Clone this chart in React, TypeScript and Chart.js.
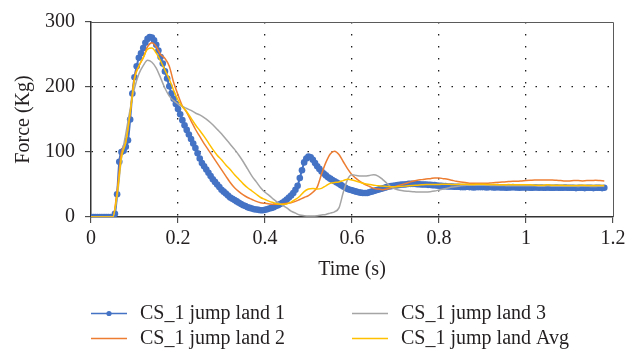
import React, { useEffect, useRef } from 'react';
import { Chart, registerables } from 'chart.js';

Chart.register(...registerables);

// ---------- DATA ----------
const SERIES_LABELS = ['CS_1 jump land 1', 'CS_1 jump land 2', 'CS_1 jump land 3', 'CS_1 jump land Avg'];
const SERIES_COLORS = ['#4472C4', '#ED7D31', '#A5A5A5', '#FFC000'];
const X_TICK_LABELS = ['0', '0.2', '0.4', '0.6', '0.8', '1', '1.2'];
const Y_TICK_LABELS = ['0', '100', '200', '300'];
const X_TITLE = 'Time (s)';
const Y_TITLE = 'Force (Kg)';

// sample interval (s) of land 1 (marker series) and of the other series
const LAND1_STEP = 0.005;
const LINE_STEP = 0.01;

// land 1, every 0.005 s from 0 to 1.18 s
const LAND1 = [
  0, 0, 0, 0, 0, 0, 0, 0, 0, 0, 0, 5, 35, 85, 100, 102, 108, 118, 150, 190,
  215, 232, 245, 252, 260, 268, 274, 277, 276, 272, 265, 256, 246, 236, 224, 213, 201, 190, 182, 174,
  166, 158, 149, 141, 134, 127, 120, 113, 106, 98, 90, 83, 78, 73, 68, 63, 58, 54, 50, 46,
  42, 39, 36, 33, 30, 28, 26, 24, 22, 20, 18, 17, 15, 14, 13, 12, 11.5, 11, 10.5, 10.5,
  11, 12, 13, 14, 15, 17, 18, 20, 22, 24, 27, 30, 33, 37, 42, 48, 60, 72, 84, 90,
  93, 92, 88, 83, 78, 74, 70, 67, 64, 61, 59, 57, 55, 53, 51, 49, 47, 45, 43, 42,
  41, 40, 39, 38, 37.5, 37, 37, 37, 38, 39, 40, 41, 42, 43, 44, 45, 46, 47, 47.5, 48,
  48.5, 49, 49.5, 50, 50, 50.5, 51, 51, 51, 51, 50.5, 50.5, 50, 50, 50, 49.5, 49.5, 49, 49, 48.5,
  48, 48, 47.5, 47.5, 47, 47, 47, 46.5, 46.5, 46.5, 46, 46, 46, 46.5, 46, 46, 45.5, 46, 46, 46,
  46, 46, 45.5, 46, 46, 45.5, 45.5, 46, 45.5, 45.5, 45.5, 45, 45.5, 45.5, 46, 45.5, 45.5, 45, 45.5, 45.5,
  45.5, 45.5, 45, 45, 45.5, 45.5, 45, 45.5, 45, 45, 45.5, 45, 45, 45, 45.5, 45, 45, 45, 45.5, 45,
  45, 45, 45, 44.5, 45, 45, 45, 44.5, 45, 45, 45, 44.5, 45, 45, 45, 44.5, 45,
];

// land 2, every 0.01 s from 0 to 1.18 s
const LAND2 = [
  0, 0, 0, 0, 0, 0, 40, 100, 116, 160,
  215, 232, 245, 262, 268, 262, 250, 244, 232, 207,
  188, 171, 161, 148, 135, 124, 113, 103, 93, 83,
  73, 63, 53, 45, 39, 34, 30, 27, 24, 22,
  21, 20, 19.5, 19.5, 20, 21, 22, 24, 27, 30,
  33, 38, 46, 66, 84, 97, 101, 96, 85, 74,
  65, 59, 54, 50, 47, 44, 43, 42, 43, 45,
  47, 49, 51, 53, 55, 56.5, 57.5, 58.5, 59, 60,
  60, 59, 58, 56.5, 55, 54, 53, 52, 52, 52,
  52, 52, 52.5, 53, 53.5, 54, 54.5, 55, 55, 55.5,
  56, 56.5, 57, 57, 57, 57, 57, 56.5, 56, 55.5,
  55.5, 56, 56, 55.5, 56, 56, 56.5, 56, 55.5,
];

// land 3, every 0.01 s from 0 to 1.18 s
const LAND3 = [
  0, 0, 0, 0, 0, 0, 30, 90, 128, 166,
  198, 220, 233, 241, 238, 229, 214, 198, 186, 179,
  174, 170, 167, 164, 160, 157, 153, 148, 142, 135,
  128, 120, 112, 104, 95, 85, 74, 63, 54, 45,
  38, 33, 27, 22, 18, 14, 9, 6, 3, 2,
  1.5, 1.5, 2, 3, 4, 6, 8, 14, 38, 58,
  65, 64, 63, 63, 64, 65, 63, 58, 52, 46,
  43, 41, 40, 39.5, 39, 38.5, 38.5, 38.5, 39, 40,
  41.5, 43, 44.5, 46, 47, 48, 48.5, 49, 49, 49,
  49, 49, 48.5, 48.5, 48.5, 48.5, 48, 48, 48, 48,
  48, 48, 48, 47.5, 47.5, 48, 47.5, 47.5, 47.5, 47.5,
  47.5, 47.5, 47, 47.5, 47.5, 47, 47, 47.5, 47,
];

// average, every 0.01 s from 0 to 1.18 s
const LAND_AVG = [
  0, 0, 0, 0, 0, 0, 35, 92, 115, 160,
  212, 232, 245, 258, 260, 252, 240, 226, 212, 195,
  180, 170, 162, 152, 142, 133, 124, 114, 104, 95,
  88, 80, 73, 65, 58, 51, 45, 40, 35, 30,
  27, 24, 22, 20, 19.5, 20, 23, 27, 32, 39,
  43, 44, 43, 44, 48, 52, 53, 54, 56, 58,
  57, 55, 53, 51, 50, 49, 48, 47.5, 47, 46.5,
  46.5, 47, 47.5, 48, 48.5, 49, 49.5, 50, 50, 50,
  50, 50.5, 50.5, 50, 50, 50.5, 50.5, 50, 50, 50.5,
  50.5, 50, 50, 50, 49.5, 49.5, 50, 49.5, 49.5, 49.5,
  49.5, 49.5, 49, 49, 49, 49.5, 49, 49, 49, 48.5,
  48.5, 48.5, 48.5, 49, 48.5, 48.5, 48.5, 48.5, 48.5,
];

// ---------- helpers ----------
const toPoints = (vals: number[], step: number) =>
  vals.map((v, i) => ({ x: Math.round(i * step * 1000) / 1000, y: v }));

const FONT_FAMILY = '"Liberation Serif", "Times New Roman", serif';
const FONT_SIZE = 20;
const TEXT_COLOR = '#231f20';
const AXIS_COLOR = '#333333';
const GRID_COLOR = '#1f1f1f';

const frameAndLegend = {
  id: 'frameAndLegend',
  afterDraw(chart: any) {
    const { ctx, chartArea } = chart;
    ctx.save();
    // top and right frame lines
    ctx.strokeStyle = '#5a5a5a';
    ctx.lineWidth = 1;
    ctx.setLineDash([]);
    ctx.beginPath();
    ctx.moveTo(chartArea.left, Math.round(chartArea.top) + 0.5);
    ctx.lineTo(chartArea.right + 0.5, Math.round(chartArea.top) + 0.5);
    ctx.lineTo(chartArea.right + 0.5, chartArea.bottom);
    ctx.stroke();

    // legend (two columns)
    const items = [
      { ds: 0, x: 91, y: 313 },
      { ds: 2, x: 352, y: 313 },
      { ds: 1, x: 91, y: 338 },
      { ds: 3, x: 352, y: 338 },
    ];
    ctx.font = `${FONT_SIZE}px ${FONT_FAMILY}`;
    ctx.textBaseline = 'middle';
    ctx.textAlign = 'left';
    items.forEach((it) => {
      const ds = chart.data.datasets[it.ds];
      ctx.strokeStyle = ds.borderColor;
      ctx.lineWidth = 1.5;
      ctx.beginPath();
      ctx.moveTo(it.x, it.y + 0.5);
      ctx.lineTo(it.x + 36, it.y + 0.5);
      ctx.stroke();
      if (ds.pointRadius > 0) {
        ctx.fillStyle = ds.pointBackgroundColor;
        ctx.beginPath();
        ctx.arc(it.x + 18, it.y + 0.5, 2.6, 0, Math.PI * 2);
        ctx.fill();
      }
      ctx.fillStyle = TEXT_COLOR;
      ctx.fillText(ds.label, it.x + 49, it.y + 1);
    });
    ctx.restore();
  },
};

export default function App() {
  const canvasRef = useRef<HTMLCanvasElement>(null);

  useEffect(() => {
    if (!canvasRef.current) return;
    const lineDs = (i: number, vals: number[], order: number) => ({
      label: SERIES_LABELS[i],
      data: toPoints(vals, LINE_STEP),
      borderColor: SERIES_COLORS[i],
      backgroundColor: SERIES_COLORS[i],
      borderWidth: 1.5,
      pointRadius: 0,
      pointHoverRadius: 0,
      cubicInterpolationMode: 'monotone' as const,
      order,
    });

    const chart = new Chart(canvasRef.current, {
      type: 'line',
      data: {
        datasets: [
          {
            label: SERIES_LABELS[0],
            data: toPoints(LAND1, LAND1_STEP),
            borderColor: SERIES_COLORS[0],
            backgroundColor: SERIES_COLORS[0],
            pointBackgroundColor: SERIES_COLORS[0],
            pointBorderWidth: 0,
            pointRadius: 3.3,
            borderWidth: 2,
            cubicInterpolationMode: 'monotone' as const,
            order: 3,
          },
          lineDs(1, LAND2, 2),
          lineDs(2, LAND3, 1),
          lineDs(3, LAND_AVG, 0),
        ],
      },
      options: {
        animation: false,
        responsive: false,
        devicePixelRatio: 1,
        layout: { padding: { left: 0, right: 26, top: 18, bottom: 59 } },
        plugins: {
          legend: { display: false },
          tooltip: { enabled: false },
        },
        scales: {
          x: {
            type: 'linear',
            min: 0,
            max: 1.2,
            afterFit: (s: any) => { s.height = 75; },
            ticks: {
              stepSize: 0.2,
              padding: 4,
              color: TEXT_COLOR,
              font: { family: FONT_FAMILY, size: FONT_SIZE },
              maxRotation: 0,
              callback: (v: any) => X_TICK_LABELS[Math.round(Number(v) / 0.2)] ?? '',
            },
            grid: {
              color: (c: any) => (c.tick && (c.tick.value === 0 || Math.abs(c.tick.value - 1.2) < 1e-6) ? 'rgba(0,0,0,0)' : GRID_COLOR),
              lineWidth: 1.3,
              tickLength: 6,
              tickColor: AXIS_COLOR,
              tickWidth: 1,
              tickBorderDash: [],
            },
            border: { display: true, color: AXIS_COLOR, width: 1.5, dash: [1.5, 10.5] },
            title: {
              display: true,
              text: X_TITLE,
              color: TEXT_COLOR,
              font: { family: FONT_FAMILY, size: FONT_SIZE },
              padding: { top: 0, bottom: 10 },
            },
          },
          y: {
            min: 0,
            max: 300,
            afterFit: (s: any) => { s.width = 91; },
            ticks: {
              stepSize: 100,
              padding: 10,
              color: TEXT_COLOR,
              font: { family: FONT_FAMILY, size: FONT_SIZE },
              callback: (v: any) => Y_TICK_LABELS[Math.round(Number(v) / 100)] ?? '',
            },
            grid: {
              color: (c: any) => (c.tick && (c.tick.value === 0 || c.tick.value === 300) ? 'rgba(0,0,0,0)' : GRID_COLOR),
              lineWidth: 1.3,
              tickLength: 6,
              tickColor: AXIS_COLOR,
              tickWidth: 1,
              tickBorderDash: [],
            },
            border: { display: true, color: AXIS_COLOR, width: 1.5, dash: [1.5, 10.5] },
            title: {
              display: true,
              text: Y_TITLE,
              color: TEXT_COLOR,
              font: { family: FONT_FAMILY, size: FONT_SIZE },
              padding: { top: 12, bottom: 0 },
            },
          },
        },
      } as any,
      plugins: [frameAndLegend],
    });
    return () => chart.destroy();
  }, []);

  return (
    <div style={{ position: 'fixed', left: 0, top: 0, width: 639, height: 351, background: '#ffffff' }}>
      <canvas ref={canvasRef} width={639} height={351} style={{ display: 'block', width: 639, height: 351 }} />
    </div>
  );
}
